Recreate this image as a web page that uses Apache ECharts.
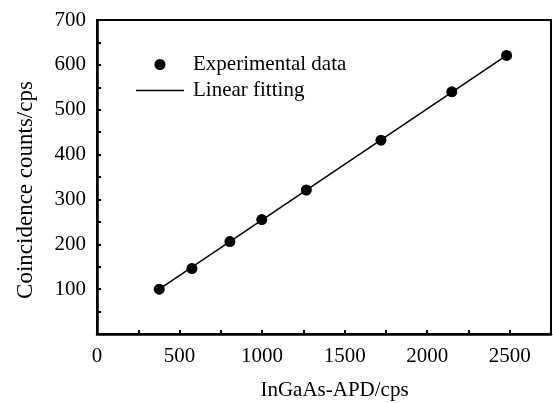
<!DOCTYPE html>
<html>
<head>
<meta charset="utf-8">
<script src="https://cdn.jsdelivr.net/npm/echarts@6/dist/echarts.min.js"></script>
<style>html,body{margin:0;padding:0;background:#fff}#c{width:553px;height:403px}</style>
</head>
<body>
<div id="c"></div>
<script>
const apdCounts = [377, 575, 805, 998, 1268, 1720, 2149, 2481];
const coincidenceCounts = [100, 146, 206, 255, 321, 432, 540, 621];
const fitX = [377, 2481];
const fitY = [100, 621];
const xTickLabels = [0, 500, 1000, 1500, 2000, 2500];
const yTickLabels = [100, 200, 300, 400, 500, 600, 700];

const font = 'Liberation Serif, Times New Roman, serif';
const chart = echarts.init(document.getElementById('c'), null, {renderer: 'canvas'});
chart.setOption({
  animation: false,
  backgroundColor: '#fff',
  textStyle: {fontFamily: font, color: '#000'},
  grid: {left: 97, right: 2, top: 20, bottom: 69, show: true, borderColor: '#000', borderWidth: 2,
    containLabel: false, outerBoundsMode: 'none'},
  legend: {
    orient: 'vertical', left: 131, top: 49,
    itemWidth: 48, itemHeight: 11, itemGap: 5, symbolKeepAspect: true,
    textStyle: {fontFamily: font, fontSize: 21, color: '#000', padding: [0, 0, 0, 4], lineHeight: 20},
    data: [
      {name: 'Experimental data', icon: 'circle', itemStyle: {color: '#000', opacity: 1}},
      {name: 'Linear fitting', icon: 'path://M0,0 H48 V1.4 H0 Z', itemStyle: {color: '#000'}}
    ]
  },
  xAxis: {
    type: 'value', min: 0, max: 2750, interval: 250,
    name: 'InGaAs-APD/cps', nameLocation: 'middle', nameGap: 46,
    nameTextStyle: {fontFamily: font, fontSize: 21, color: '#000', padding: [0, 0, 0, 21]},
    axisLine: {show: true, lineStyle: {color: '#000', width: 2.5}},
    axisTick: {show: true, inside: true, length: 4, lineStyle: {color: '#000', width: 2}},
    axisLabel: {fontFamily: font, fontSize: 21, color: '#000', margin: 12,
      showMaxLabel: false,
      formatter: v => xTickLabels.includes(v) ? String(v) : ''},
    splitLine: {show: false}
  },
  yAxis: {
    type: 'value', min: 0, max: 700, interval: 50,
    name: 'Coincidence counts/cps', nameLocation: 'middle', nameGap: 60,
    nameTextStyle: {fontFamily: font, fontSize: 23, color: '#000', padding: [0, 26, 0, 0]},
    axisLine: {show: true, lineStyle: {color: '#000', width: 2.5}},
    axisTick: {show: true, inside: true, length: 4, lineStyle: {color: '#000', width: 2}},
    axisLabel: {fontFamily: font, fontSize: 21, color: '#000', margin: 11,
      formatter: v => yTickLabels.includes(v) ? String(v) : ''},
    splitLine: {show: false}
  },
  series: [
    {
      name: 'Linear fitting', type: 'line', symbol: 'none',
      data: fitX.map((x, i) => [x, fitY[i]]),
      lineStyle: {color: '#000', width: 1.5}, itemStyle: {color: '#000'}, z: 2
    },
    {
      name: 'Experimental data', type: 'scatter', symbol: 'circle', symbolSize: 11,
      data: apdCounts.map((x, i) => [x, coincidenceCounts[i]]),
      itemStyle: {color: '#000', opacity: 1}, z: 3
    }
  ]
});
</script>
</body>
</html>
